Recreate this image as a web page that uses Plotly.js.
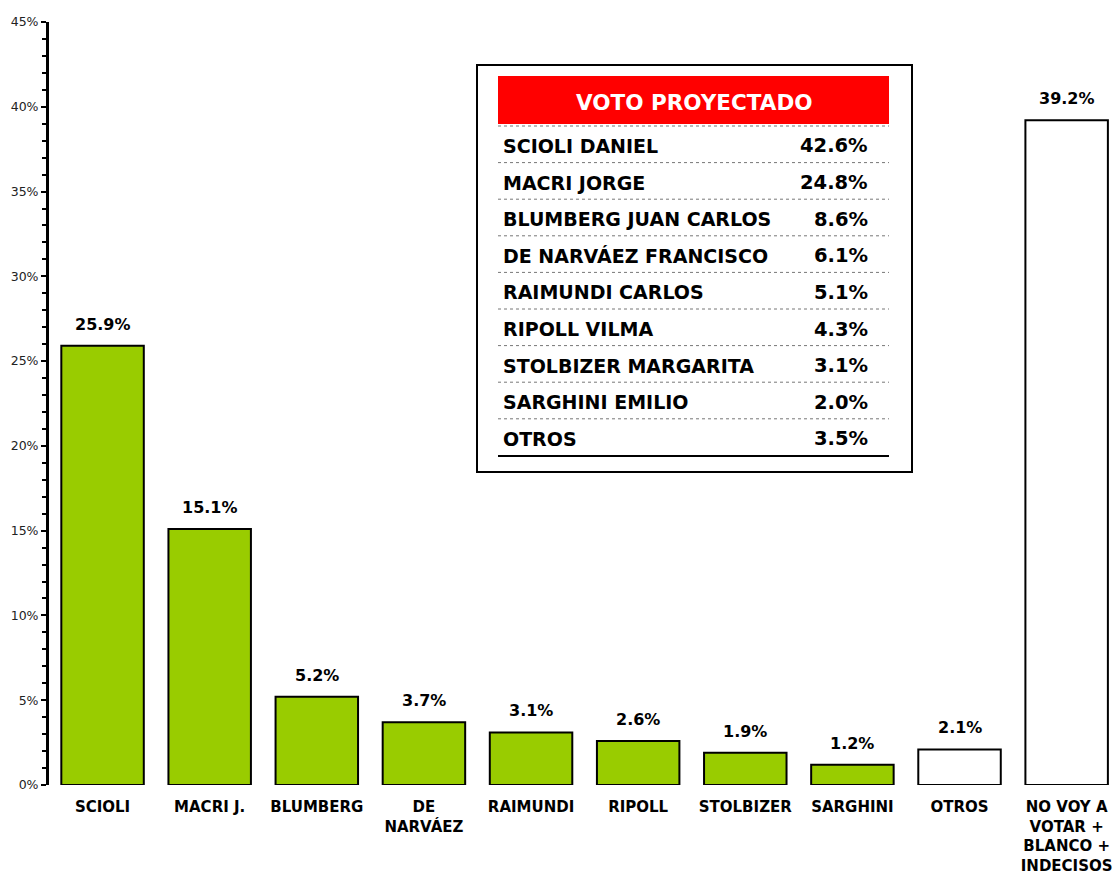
<!DOCTYPE html>
<html><head><meta charset="utf-8">
<script src="https://cdn.plot.ly/plotly-3.0.1.min.js"></script>
<style>body{margin:0;background:#fff}#c{width:1117px;height:875px}</style>
</head><body><div id="c"></div>
<script>
const categories = ["SCIOLI","MACRI J.","BLUMBERG","DE<br>NARVÁEZ","RAIMUNDI","RIPOLL","STOLBIZER","SARGHINI","OTROS","NO VOY A<br>VOTAR +<br>BLANCO +<br>INDECISOS"];
const values = [25.9,15.1,5.2,3.7,3.1,2.6,1.9,1.2,2.1,39.2];
const barColors = ["#99CC00","#99CC00","#99CC00","#99CC00","#99CC00","#99CC00","#99CC00","#99CC00","#FFFFFF","#FFFFFF"];
const yTickVals = [0,5,10,15,20,25,30,35,40,45];
const yTickText = ["0%","5%","10%","15%","20%","25%","30%","35%","40%","45%"];
const tableTitle = "VOTO PROYECTADO";
const tableNames = ["SCIOLI DANIEL","MACRI JORGE","BLUMBERG JUAN CARLOS","DE NARVÁEZ FRANCISCO","RAIMUNDI CARLOS","RIPOLL VILMA","STOLBIZER MARGARITA","SARGHINI EMILIO","OTROS"];
const tableValues = [42.6,24.8,8.6,6.1,5.1,4.3,3.1,2.0,3.5];

const FONT = "DejaVu Sans, Verdana, sans-serif";
const L = 49, T = 22, W = 1068, H = 763;
const px = x => (x - L) / W;
const py = y => (T + H - y) / H;

const idx = categories.map((_, i) => i);
const trace = {
  type: 'bar', x: idx, y: values,
  marker: {color: barColors, line: {color: '#000', width: 2}},
  width: 0.77, hoverinfo: 'skip'
};

const annotations = values.map((v, i) => ({
  x: i, y: v, xref: 'x', yref: 'y', text: v.toFixed(1) + '%',
  showarrow: false, yanchor: 'bottom', yshift: 10,
  font: {family: FONT, size: 16, color: '#000', weight: 'bold'}
}));

const shapes = [];
shapes.push({type:'rect', xref:'paper', yref:'paper', x0:px(477), x1:px(912), y0:py(472), y1:py(65), line:{color:'#000', width:2}, fillcolor:'#fff', layer:'above'});
shapes.push({type:'rect', xref:'paper', yref:'paper', x0:px(498), x1:px(889), y0:py(124), y1:py(76), line:{width:0}, fillcolor:'#FF0000', layer:'above'});
annotations.push({xref:'paper', yref:'paper', x:px(694), y:py(102), text:tableTitle, showarrow:false, xanchor:'center', yanchor:'middle', font:{family:FONT, size:21.5, color:'#fff', weight:'bold'}});
const rowH = 36.6, firstLine = 126, firstRow = 146;
tableNames.forEach((n, i) => {
  const ly = firstLine + i * rowH;
  shapes.push({type:'line', xref:'paper', yref:'paper', x0:px(498), x1:px(889), y0:py(ly), y1:py(ly), line:{color:'#777', width:1, dash:'dot'}, layer:'above'});
  const ry = firstRow + i * rowH;
  annotations.push({xref:'paper', yref:'paper', x:px(501), y:py(ry), text:n, showarrow:false, xanchor:'left', yanchor:'middle', font:{family:FONT, size:19, color:'#000', weight:'bold'}});
  annotations.push({xref:'paper', yref:'paper', x:px(870), y:py(ry), text:tableValues[i].toFixed(1) + '%', showarrow:false, xanchor:'right', yanchor:'middle', font:{family:FONT, size:19.5, color:'#000', weight:'bold'}});
});
shapes.push({type:'line', xref:'paper', yref:'paper', x0:px(498), x1:px(889), y0:py(456), y1:py(456), line:{color:'#000', width:2}, layer:'above'});

const layout = {
  width: 1117, height: 875,
  margin: {l: L, r: 0, t: T, b: 875 - T - H},
  paper_bgcolor: '#fff', plot_bgcolor: '#fff',
  showlegend: false,
  xaxis: {
    range: [-0.5, 9.47], tickvals: idx, ticktext: categories,
    showgrid: false, zeroline: false, showline: false, ticks: '',
    tickfont: {family: FONT, size: 15, color: '#000', weight: 'bold'},
    ticklabelstandoff: 11, fixedrange: true
  },
  yaxis: {
    range: [0, 45], tickvals: yTickVals, ticktext: yTickText,
    showgrid: false, zeroline: false, showline: true, linecolor: '#000', linewidth: 3,
    ticks: 'outside', ticklen: 5, tickwidth: 2, tickcolor: '#000',
    minor: {dtick: 1, ticks: 'outside', ticklen: 4, tickwidth: 2, tickcolor: '#000'},
    tickfont: {family: FONT, size: 12.5, color: '#222'}, fixedrange: true
  },
  annotations: annotations, shapes: shapes,
  bargap: 0.23
};
Plotly.newPlot('c', [trace], layout, {displayModeBar: false, staticPlot: true});
</script></body></html>
